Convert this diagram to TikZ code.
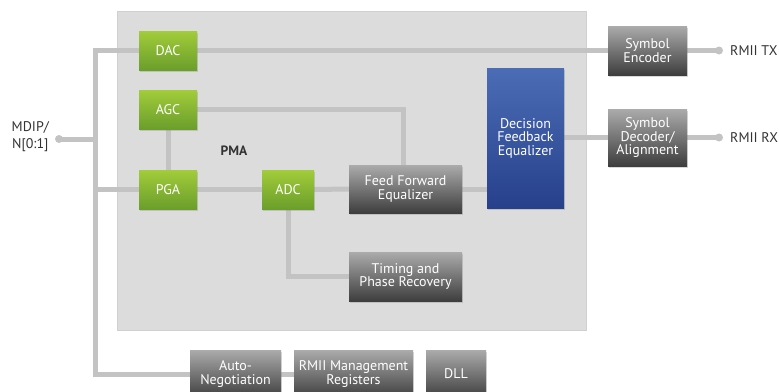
\documentclass[tikz,border=0pt]{standalone}
\usepackage{fontspec}
\setmainfont{PT Sans}
\usetikzlibrary{shadows}
\definecolor{wirec}{HTML}{C3C3C3}
\definecolor{pmabg}{HTML}{DCDCDC}
\definecolor{pmaln}{HTML}{D0D0D0}
\definecolor{gtop}{HTML}{A2CC3A}
\definecolor{gbot}{HTML}{6B9E2B}
\definecolor{ktop}{HTML}{ABABAB}
\definecolor{kbot}{HTML}{3E3E3E}
\definecolor{btop}{HTML}{4B6DB5}
\definecolor{bbot}{HTML}{27408C}
\definecolor{labc}{HTML}{333333}
\pgfdeclarelayer{bg}
\pgfdeclarelayer{wires}
\pgfsetlayers{bg,wires,main}
\tikzset{
  blk/.style={inner sep=0pt, align=center, text=white,
    font=\fontsize{14}{13.5}\selectfont,
    drop shadow={shadow xshift=1.2pt, shadow yshift=-1.5pt, opacity=0.3}},
  greenbox/.style={blk, top color=gtop, bottom color=gbot},
  graybox/.style={blk, top color=ktop, bottom color=kbot},
  bluebox/.style={blk, top color=btop, bottom color=bbot},
  wire/.style={draw=wirec, line width=5pt},
  pindot/.style={circle, fill=wirec, inner sep=0pt, minimum size=8pt},
  extlabel/.style={text=labc, font=\fontsize{14}{17}\selectfont, align=center, inner sep=0pt}
}
\begin{document}
\begin{tikzpicture}[x=1pt,y=-1pt]
\useasboundingbox (0,0) rectangle (779,391);
\clip (0,0) rectangle (779,391);
\begin{pgfonlayer}{bg}
\node[fill=pmabg, draw=pmaln, line width=1pt, minimum width=469pt, minimum height=319pt, inner sep=0pt] (pma) at (351.5,170.5) {};
\end{pgfonlayer}
\node[text=labc, font=\bfseries\fontsize{13.5}{13.5}\selectfont] (pmalab) at (234,151) {PMA};

\node[greenbox, minimum width=58pt, minimum height=39pt] (dac) at (168,50.5) {DAC};
\node[greenbox, minimum width=58pt, minimum height=39pt] (agc) at (168,109.5) {AGC};
\node[greenbox, minimum width=58pt, minimum height=39pt] (pga) at (168,189.5) {PGA};
\node[greenbox, minimum width=52pt, minimum height=39pt] (adc) at (288,189.5) {ADC};
\node[graybox, minimum width=113pt, minimum height=48pt] (ffe) at (405.5,189) {Feed Forward\\Equalizer};
\node[graybox, minimum width=113pt, minimum height=49pt] (tpr) at (405.5,276.5) {Timing and\\Phase Recovery};
\node[bluebox, minimum width=77pt, minimum height=140pt] (dfe) at (525.5,138) {Decision\\Feedback\\Equalizer};
\node[graybox, minimum width=79pt, minimum height=49pt] (enc) at (647.5,50.5) {Symbol\\Encoder};
\node[graybox, minimum width=79pt, minimum height=57pt] (dec) at (647.5,137.5) {Symbol\\Decoder/\\Alignment};
\node[graybox, minimum width=91pt, minimum height=48pt] (auto) at (235.5,374) {Auto-\\Negotiation};
\node[graybox, minimum width=119pt, minimum height=48pt] (mgmt) at (353.5,374) {RMII Management\\Registers};
\node[graybox, minimum width=60pt, minimum height=48pt] (dll) at (456,374) {DLL};

\node[pindot] (mdip) at (59,139) {};
\node[pindot] (tx) at (719,50.5) {};
\node[pindot] (rx) at (719,137.5) {};
\node[extlabel, anchor=east] (mdiplab) at (49,137) {MDIP/\\N[0:1]};
\node[extlabel, anchor=west] (txlab) at (730,51) {RMII TX};
\node[extlabel, anchor=west] (rxlab) at (730,137.5) {RMII RX};

\coordinate (bt) at (95,50.5);
\coordinate (bb) at (95,374);

\begin{pgfonlayer}{wires}
\draw[wire] (dac.west) -- (bt) -- (bb) -- (auto.west);
\draw[wire] (mdip.center) -- (bt |- mdip);
\draw[wire] (pga.west) -- (bt |- pga.west);
\draw[wire] (agc.south) -- (pga.north);
\draw[wire] (agc.east) -| ([xshift=-2pt]ffe.north);
\draw[wire] (pga.east) -- (adc.west);
\draw[wire] (adc.east) -- (ffe.west);
\draw[wire] (adc.south) |- (tpr.west);
\draw[wire] (ffe.east) -- (ffe.east -| dfe.west);
\draw[wire] (dfe.east |- dec.west) -- (dec.west);
\draw[wire] (dac.east) -- (enc.west);
\draw[wire] (enc.east) -- (tx.center);
\draw[wire] (dec.east) -- (rx.center);
\draw[wire] (auto.east) -- (mgmt.west);
\end{pgfonlayer}
\end{tikzpicture}
\end{document}
